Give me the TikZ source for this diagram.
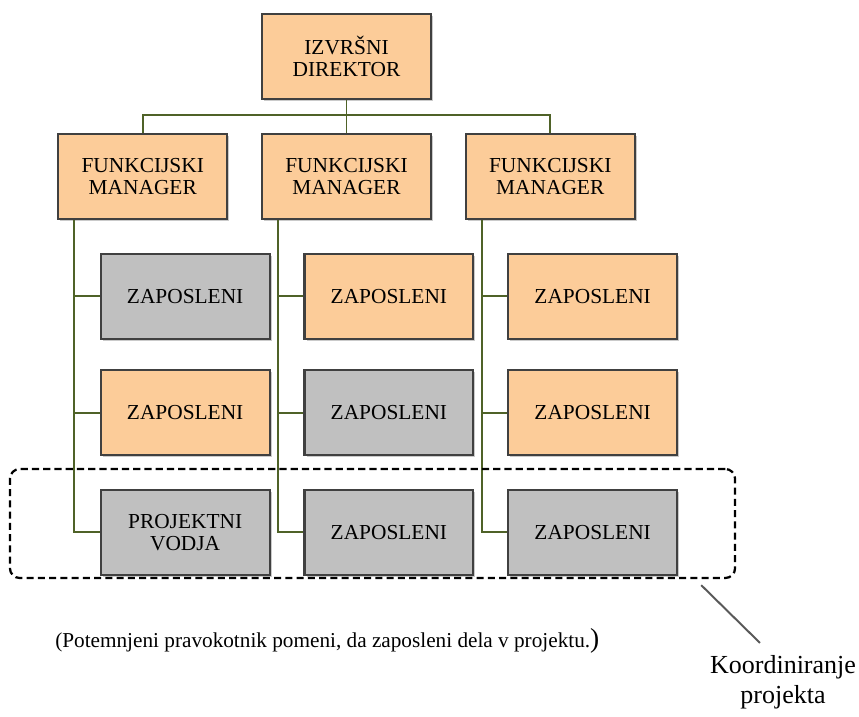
\documentclass[tikz,border=0pt]{standalone}
\usepackage{fontspec}
\setmainfont{Liberation Serif}
\usepackage{xcolor}
\usepackage{tikz}
\usetikzlibrary{positioning,shadows}

\definecolor{peach}{HTML}{FCCC99}
\definecolor{boxgray}{HTML}{C0C0C0}
\definecolor{olive}{HTML}{4F6228}

\begin{document}
\begin{tikzpicture}[
  x=0.025cm, y=-0.025cm,
  node distance=8.2mm and 8.2mm,
  unit/.style={draw=black!75, line width=1.5pt, minimum width=4.22cm,
    minimum height=2.12cm, align=center, inner sep=2pt,
    font=\fontsize{15.2}{15.8}\selectfont,
    drop shadow={shadow xshift=1.5pt, shadow yshift=-1.5pt,
      opacity=0.35, fill=black!60}},
  boss/.style={unit, fill=peach},
  idle/.style={unit, fill=peach},
  busy/.style={unit, fill=boxgray},
  link/.style={draw=olive, line width=1.4pt},
  team/.style={draw, line width=1.6pt, dash pattern=on 5pt off 3pt,
    rounded corners=7pt, minimum width=18.125cm, minimum height=2.725cm,
    inner sep=0pt},
]
\useasboundingbox (0,0) rectangle (859,716);

\node[boss, minimum height=2.13cm] (D) at (346.5,56.5) {IZVRŠNI\\DIREKTOR};
\node[boss, below=of D] (M2) {FUNKCIJSKI\\MANAGER};
\node[boss, left=of M2] (M1) {FUNKCIJSKI\\MANAGER};
\node[boss, right=of M2] (M3) {FUNKCIJSKI\\MANAGER};

% prvi stolpec
\node[busy, below=of M1, xshift=10.6mm] (E11) {ZAPOSLENI};
\node[idle, below=7.4mm of E11] (E12) {ZAPOSLENI};
\node[busy, below=of E12] (E13) {PROJEKTNI\\VODJA};
% drugi stolpec
\node[idle, below=of M2, xshift=10.6mm] (E21) {ZAPOSLENI};
\node[busy, below=7.4mm of E21] (E22) {ZAPOSLENI};
\node[busy, below=of E22] (E23) {ZAPOSLENI};
% tretji stolpec
\node[idle, below=of M3, xshift=10.6mm] (E31) {ZAPOSLENI};
\node[idle, below=7.4mm of E31] (E32) {ZAPOSLENI};
\node[busy, below=of E32] (E33) {ZAPOSLENI};

\draw[link] (D.south) -- (M2.north);
\draw[link] (M1.north) -- ++(0,-17.5) -| (M3.north);

\coordinate (t1) at ([xshift=0.425cm]M1.south west);
\coordinate (t2) at ([xshift=0.425cm]M2.south west);
\coordinate (t3) at ([xshift=0.425cm]M3.south west);
\draw[link] (t1) |- (E13.west);
\draw[link] (E11.west) -- (E11.west -| t1);
\draw[link] (E12.west) -- (E12.west -| t1);
\draw[link] (t2) |- (E23.west);
\draw[link] (E21.west) -- (E21.west -| t2);
\draw[link] (E22.west) -- (E22.west -| t2);
\draw[link] (t3) |- (E33.west);
\draw[link] (E31.west) -- (E31.west -| t3);
\draw[link] (E32.west) -- (E32.west -| t3);

\node[team] (P) at (372.5,523.5) {};

\node[anchor=base west, inner sep=0pt, font=\fontsize{15.1}{17}\selectfont]
  (note) at (55,647)
  {(Potemnjeni pravokotnik pomeni, da zaposleni dela v projektu.{\fontsize{19.5}{20}\selectfont)}};

\node[align=center, inner sep=0pt, font=\fontsize{18.5}{21.3}\selectfont]
  (K) at (783,682) {Koordiniranje\\projekta};

\draw[black!65, line width=1.4pt]
  ([xshift=-0.875cm, yshift=-0.15cm]P.south east) -- ([xshift=-0.575cm, yshift=0.3cm]K.north);
\end{tikzpicture}
\end{document}
